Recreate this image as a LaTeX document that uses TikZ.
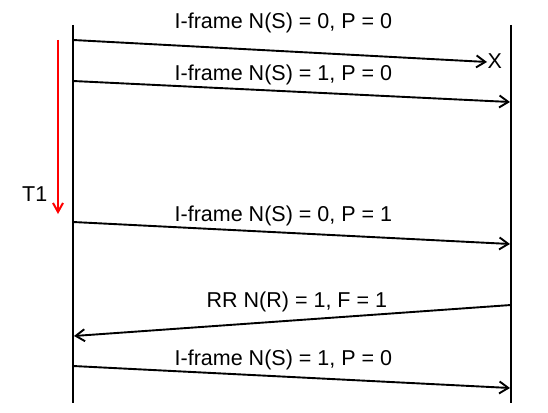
\documentclass[tikz,border=0pt]{standalone}
\usepackage{fontspec}
\setmainfont{Liberation Sans}
\usetikzlibrary{arrows.meta}
\begin{document}
\begin{tikzpicture}[x=1pt,y=-1pt,
  life/.style={line width=2pt},
  msg/.style={line width=1.9pt,-{Straight Barb[length=9pt,width=12pt,line width=1.9pt]}},
  timer/.style={line width=2pt,red,-{Straight Barb[length=9pt,width=10pt,line width=2pt]}},
  lbl/.style={font=\fontsize{21.5}{24}\selectfont,inner sep=0pt,anchor=base west}]
\useasboundingbox (0,0) rectangle (548,412);
% lifelines
\coordinate (Ltop) at (73,25);
\coordinate (Lbot) at (73,403);
\coordinate (Rtop) at (511,25);
\coordinate (Rbot) at (511,403);
\draw[life] (Ltop) -- (Lbot);
\draw[life] (Rtop) -- (Rbot);
% timer
\coordinate (T1s) at (58,40);
\coordinate (T1e) at (58,214);
\draw[timer] (T1s) -- (T1e);
\node[lbl] (t1) at (22,201.5) {T1};
% message endpoints
\coordinate (a1) at (73,40);
\node[lbl] (x) at (487.5,68) {X};
\coordinate (b1) at (487,62);
\coordinate (a2) at (73,81);
\coordinate (b2) at (510,102);
\coordinate (a3) at (73,222);
\coordinate (b3) at (510,244);
\coordinate (a4) at (511,305);
\coordinate (b4) at (74,336);
\coordinate (a5) at (73,366);
\coordinate (b5) at (510,388);
\draw[msg] (a1) -- (b1);
\draw[msg] (a2) -- (b2);
\draw[msg] (a3) -- (b3);
\draw[msg] (a4) -- (b4);
\draw[msg] (a5) -- (b5);
% labels
\node[lbl] (m1) at (174.5,28.3) {I-frame N(S) = 0, P = 0};
\node[lbl] (m2) at (174.5,80) {I-frame N(S) = 1, P = 0};
\node[lbl] (m3) at (174.5,221.5) {I-frame N(S) = 0, P = 1};
\node[lbl] (m4) at (206.5,307) {RR N(R) = 1, F = 1};
\node[lbl] (m5) at (174.5,365) {I-frame N(S) = 1, P = 0};
\end{tikzpicture}
\end{document}
